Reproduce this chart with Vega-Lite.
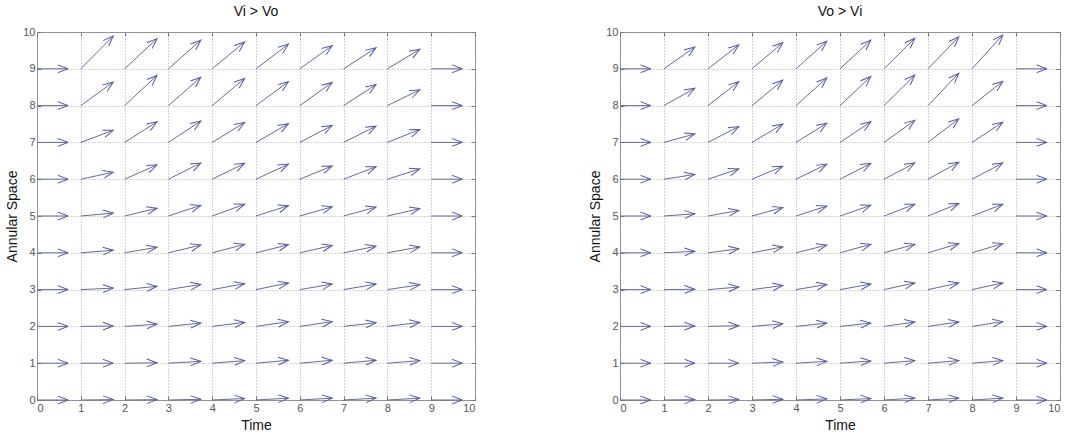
{
  "$schema": "https://vega.github.io/schema/vega-lite/v6.json",
  "padding": {"left": 5, "top": 4, "right": 0, "bottom": 0},
  "spacing": 112,
  "config": {
    "font": "Liberation Sans",
    "view": {"stroke": "#8a8a8a", "strokeWidth": 1},
    "axis": {
      "domain": false,
      "grid": true,
      "gridColor": "#a8a8a8",
      "gridDash": [1, 2],
      "gridWidth": 1,
      "tickColor": "#777777",
      "tickSize": -4,
      "labelPadding": 6,
      "labelOverlap": false,
      "labelColor": "#555555",
      "labelFontSize": 11,
      "labelFont": "Liberation Sans",
      "titleFont": "Liberation Sans",
      "titleFontSize": 14,
      "titleFontWeight": "normal",
      "titleColor": "#111111"
    }
  },
  "datasets": {
    "a": [
      {"x":0,"y":9,"x2":0.71,"y2":9},{"x":1,"y":9,"x2":1.74,"y2":9.89},{"x":2,"y":9,"x2":2.74,"y2":9.82},{"x":3,"y":9,"x2":3.74,"y2":9.78},{"x":4,"y":9,"x2":4.74,"y2":9.73},{"x":5,"y":9,"x2":5.74,"y2":9.67},{"x":6,"y":9,"x2":6.74,"y2":9.63},{"x":7,"y":9,"x2":7.74,"y2":9.57},{"x":8,"y":9,"x2":8.74,"y2":9.53},{"x":9,"y":9,"x2":9.71,"y2":9},
      {"x":0,"y":8,"x2":0.71,"y2":8},{"x":1,"y":8,"x2":1.74,"y2":8.64},{"x":2,"y":8,"x2":2.74,"y2":8.82},{"x":3,"y":8,"x2":3.74,"y2":8.77},{"x":4,"y":8,"x2":4.74,"y2":8.74},{"x":5,"y":8,"x2":5.74,"y2":8.65},{"x":6,"y":8,"x2":6.74,"y2":8.63},{"x":7,"y":8,"x2":7.74,"y2":8.57},{"x":8,"y":8,"x2":8.74,"y2":8.43},{"x":9,"y":8,"x2":9.71,"y2":8},
      {"x":0,"y":7,"x2":0.71,"y2":7},{"x":1,"y":7,"x2":1.74,"y2":7.33},{"x":2,"y":7,"x2":2.74,"y2":7.56},{"x":3,"y":7,"x2":3.74,"y2":7.58},{"x":4,"y":7,"x2":4.74,"y2":7.54},{"x":5,"y":7,"x2":5.74,"y2":7.51},{"x":6,"y":7,"x2":6.74,"y2":7.46},{"x":7,"y":7,"x2":7.74,"y2":7.44},{"x":8,"y":7,"x2":8.74,"y2":7.35},{"x":9,"y":7,"x2":9.71,"y2":7},
      {"x":0,"y":6,"x2":0.71,"y2":6},{"x":1,"y":6,"x2":1.74,"y2":6.19},{"x":2,"y":6,"x2":2.74,"y2":6.39},{"x":3,"y":6,"x2":3.74,"y2":6.44},{"x":4,"y":6,"x2":4.74,"y2":6.43},{"x":5,"y":6,"x2":5.74,"y2":6.41},{"x":6,"y":6,"x2":6.74,"y2":6.36},{"x":7,"y":6,"x2":7.74,"y2":6.34},{"x":8,"y":6,"x2":8.74,"y2":6.28},{"x":9,"y":6,"x2":9.71,"y2":6},
      {"x":0,"y":5,"x2":0.71,"y2":5},{"x":1,"y":5,"x2":1.74,"y2":5.08},{"x":2,"y":5,"x2":2.74,"y2":5.21},{"x":3,"y":5,"x2":3.74,"y2":5.29},{"x":4,"y":5,"x2":4.74,"y2":5.32},{"x":5,"y":5,"x2":5.74,"y2":5.28},{"x":6,"y":5,"x2":6.74,"y2":5.25},{"x":7,"y":5,"x2":7.74,"y2":5.24},{"x":8,"y":5,"x2":8.74,"y2":5.2},{"x":9,"y":5,"x2":9.71,"y2":5},
      {"x":0,"y":4,"x2":0.71,"y2":4},{"x":1,"y":4,"x2":1.74,"y2":4.07},{"x":2,"y":4,"x2":2.74,"y2":4.15},{"x":3,"y":4,"x2":3.74,"y2":4.21},{"x":4,"y":4,"x2":4.74,"y2":4.23},{"x":5,"y":4,"x2":5.74,"y2":4.22},{"x":6,"y":4,"x2":6.74,"y2":4.2},{"x":7,"y":4,"x2":7.74,"y2":4.18},{"x":8,"y":4,"x2":8.74,"y2":4.16},{"x":9,"y":4,"x2":9.71,"y2":4},
      {"x":0,"y":3,"x2":0.71,"y2":3},{"x":1,"y":3,"x2":1.74,"y2":3.04},{"x":2,"y":3,"x2":2.74,"y2":3.09},{"x":3,"y":3,"x2":3.74,"y2":3.14},{"x":4,"y":3,"x2":4.74,"y2":3.16},{"x":5,"y":3,"x2":5.74,"y2":3.18},{"x":6,"y":3,"x2":6.74,"y2":3.15},{"x":7,"y":3,"x2":7.74,"y2":3.15},{"x":8,"y":3,"x2":8.74,"y2":3.13},{"x":9,"y":3,"x2":9.71,"y2":3},
      {"x":0,"y":2,"x2":0.71,"y2":2},{"x":1,"y":2,"x2":1.74,"y2":2.01},{"x":2,"y":2,"x2":2.74,"y2":2.06},{"x":3,"y":2,"x2":3.74,"y2":2.09},{"x":4,"y":2,"x2":4.74,"y2":2.11},{"x":5,"y":2,"x2":5.74,"y2":2.13},{"x":6,"y":2,"x2":6.74,"y2":2.13},{"x":7,"y":2,"x2":7.74,"y2":2.1},{"x":8,"y":2,"x2":8.74,"y2":2.11},{"x":9,"y":2,"x2":9.71,"y2":2},
      {"x":0,"y":1,"x2":0.71,"y2":1},{"x":1,"y":1,"x2":1.74,"y2":1},{"x":2,"y":1,"x2":2.74,"y2":1.01},{"x":3,"y":1,"x2":3.74,"y2":1.05},{"x":4,"y":1,"x2":4.74,"y2":1.07},{"x":5,"y":1,"x2":5.74,"y2":1.08},{"x":6,"y":1,"x2":6.74,"y2":1.08},{"x":7,"y":1,"x2":7.74,"y2":1.08},{"x":8,"y":1,"x2":8.74,"y2":1.07},{"x":9,"y":1,"x2":9.71,"y2":1},
      {"x":0,"y":0,"x2":0.71,"y2":0},{"x":1,"y":0,"x2":1.74,"y2":0.01},{"x":2,"y":0,"x2":2.74,"y2":0.01},{"x":3,"y":0,"x2":3.74,"y2":0.02},{"x":4,"y":0,"x2":4.74,"y2":0.04},{"x":5,"y":0,"x2":5.74,"y2":0.05},{"x":6,"y":0,"x2":6.74,"y2":0.05},{"x":7,"y":0,"x2":7.74,"y2":0.05},{"x":8,"y":0,"x2":8.74,"y2":0.05},{"x":9,"y":0,"x2":9.71,"y2":0}
    ],
    "b": [
      {"x":0,"y":9,"x2":0.7,"y2":9},{"x":1,"y":9,"x2":1.7,"y2":9.59},{"x":2,"y":9,"x2":2.7,"y2":9.65},{"x":3,"y":9,"x2":3.7,"y2":9.71},{"x":4,"y":9,"x2":4.7,"y2":9.75},{"x":5,"y":9,"x2":5.7,"y2":9.78},{"x":6,"y":9,"x2":6.7,"y2":9.83},{"x":7,"y":9,"x2":7.7,"y2":9.87},{"x":8,"y":9,"x2":8.7,"y2":9.92},{"x":9,"y":9,"x2":9.7,"y2":9},
      {"x":0,"y":8,"x2":0.7,"y2":8},{"x":1,"y":8,"x2":1.7,"y2":8.47},{"x":2,"y":8,"x2":2.7,"y2":8.65},{"x":3,"y":8,"x2":3.7,"y2":8.69},{"x":4,"y":8,"x2":4.7,"y2":8.75},{"x":5,"y":8,"x2":5.7,"y2":8.79},{"x":6,"y":8,"x2":6.7,"y2":8.83},{"x":7,"y":8,"x2":7.7,"y2":8.88},{"x":8,"y":8,"x2":8.7,"y2":8.66},{"x":9,"y":8,"x2":9.7,"y2":8},
      {"x":0,"y":7,"x2":0.7,"y2":7},{"x":1,"y":7,"x2":1.7,"y2":7.23},{"x":2,"y":7,"x2":2.7,"y2":7.43},{"x":3,"y":7,"x2":3.7,"y2":7.5},{"x":4,"y":7,"x2":4.7,"y2":7.52},{"x":5,"y":7,"x2":5.7,"y2":7.56},{"x":6,"y":7,"x2":6.7,"y2":7.6},{"x":7,"y":7,"x2":7.7,"y2":7.64},{"x":8,"y":7,"x2":8.7,"y2":7.55},{"x":9,"y":7,"x2":9.7,"y2":7},
      {"x":0,"y":6,"x2":0.7,"y2":6},{"x":1,"y":6,"x2":1.7,"y2":6.13},{"x":2,"y":6,"x2":2.7,"y2":6.28},{"x":3,"y":6,"x2":3.7,"y2":6.35},{"x":4,"y":6,"x2":4.7,"y2":6.41},{"x":5,"y":6,"x2":5.7,"y2":6.43},{"x":6,"y":6,"x2":6.7,"y2":6.44},{"x":7,"y":6,"x2":7.7,"y2":6.46},{"x":8,"y":6,"x2":8.7,"y2":6.44},{"x":9,"y":6,"x2":9.7,"y2":6},
      {"x":0,"y":5,"x2":0.7,"y2":5},{"x":1,"y":5,"x2":1.7,"y2":5.06},{"x":2,"y":5,"x2":2.7,"y2":5.15},{"x":3,"y":5,"x2":3.7,"y2":5.23},{"x":4,"y":5,"x2":4.7,"y2":5.27},{"x":5,"y":5,"x2":5.7,"y2":5.29},{"x":6,"y":5,"x2":6.7,"y2":5.32},{"x":7,"y":5,"x2":7.7,"y2":5.34},{"x":8,"y":5,"x2":8.7,"y2":5.32},{"x":9,"y":5,"x2":9.7,"y2":5},
      {"x":0,"y":4,"x2":0.7,"y2":4},{"x":1,"y":4,"x2":1.7,"y2":4.04},{"x":2,"y":4,"x2":2.7,"y2":4.11},{"x":3,"y":4,"x2":3.7,"y2":4.16},{"x":4,"y":4,"x2":4.7,"y2":4.21},{"x":5,"y":4,"x2":5.7,"y2":4.23},{"x":6,"y":4,"x2":6.7,"y2":4.23},{"x":7,"y":4,"x2":7.7,"y2":4.25},{"x":8,"y":4,"x2":8.7,"y2":4.25},{"x":9,"y":4,"x2":9.7,"y2":4},
      {"x":0,"y":3,"x2":0.7,"y2":3},{"x":1,"y":3,"x2":1.7,"y2":3.01},{"x":2,"y":3,"x2":2.7,"y2":3.07},{"x":3,"y":3,"x2":3.7,"y2":3.11},{"x":4,"y":3,"x2":4.7,"y2":3.14},{"x":5,"y":3,"x2":5.7,"y2":3.15},{"x":6,"y":3,"x2":6.7,"y2":3.18},{"x":7,"y":3,"x2":7.7,"y2":3.18},{"x":8,"y":3,"x2":8.7,"y2":3.18},{"x":9,"y":3,"x2":9.7,"y2":3},
      {"x":0,"y":2,"x2":0.7,"y2":2},{"x":1,"y":2,"x2":1.7,"y2":2.01},{"x":2,"y":2,"x2":2.7,"y2":2.02},{"x":3,"y":2,"x2":3.7,"y2":2.07},{"x":4,"y":2,"x2":4.7,"y2":2.09},{"x":5,"y":2,"x2":5.7,"y2":2.09},{"x":6,"y":2,"x2":6.7,"y2":2.12},{"x":7,"y":2,"x2":7.7,"y2":2.12},{"x":8,"y":2,"x2":8.7,"y2":2.13},{"x":9,"y":2,"x2":9.7,"y2":2},
      {"x":0,"y":1,"x2":0.7,"y2":1},{"x":1,"y":1,"x2":1.7,"y2":1},{"x":2,"y":1,"x2":2.7,"y2":1},{"x":3,"y":1,"x2":3.7,"y2":1.03},{"x":4,"y":1,"x2":4.7,"y2":1.05},{"x":5,"y":1,"x2":5.7,"y2":1.06},{"x":6,"y":1,"x2":6.7,"y2":1.07},{"x":7,"y":1,"x2":7.7,"y2":1.07},{"x":8,"y":1,"x2":8.7,"y2":1.07},{"x":9,"y":1,"x2":9.7,"y2":1},
      {"x":0,"y":0,"x2":0.7,"y2":0},{"x":1,"y":0,"x2":1.7,"y2":0.01},{"x":2,"y":0,"x2":2.7,"y2":0.01},{"x":3,"y":0,"x2":3.7,"y2":0.02},{"x":4,"y":0,"x2":4.7,"y2":0.03},{"x":5,"y":0,"x2":5.7,"y2":0.04},{"x":6,"y":0,"x2":6.7,"y2":0.05},{"x":7,"y":0,"x2":7.7,"y2":0.05},{"x":8,"y":0,"x2":8.7,"y2":0.05},{"x":9,"y":0,"x2":9.7,"y2":0}
    ]
  },
  "hconcat": [
    {
      "title": {"text": "Vi > Vo", "fontSize": 14, "fontWeight": "normal", "font": "Liberation Sans", "color": "#111111", "offset": 7},
      "width": 438,
      "height": 368,
      "data": {"name": "a"},
      "transform": [{"calculate": "-atan2((datum.y2 - datum.y) * 36.8, (datum.x2 - datum.x) * 43.8) * 180 / PI", "as": "ang"}],
      "resolve": {"axis": {"x": "independent", "y": "independent"}},
      "layer": [
        {
          "mark": {"type": "rule", "color": "#676a9c", "strokeWidth": 1},
          "encoding": {
            "x": {"field": "x", "type": "quantitative", "scale": {"domain": [0, 10], "nice": false}, "axis": {"title": "Time", "orient": "bottom", "values": [0,1,2,3,4,5,6,7,8,9,10], "titlePadding": 5}},
            "y": {"field": "y", "type": "quantitative", "scale": {"domain": [0, 10], "nice": false}, "axis": {"title": "Annular Space", "orient": "left", "values": [0,1,2,3,4,5,6,7,8,9,10], "titlePadding": 3}},
            "x2": {"field": "x2"},
            "y2": {"field": "y2"}
          }
        },
        {
          "mark": {"type": "point", "shape": "M-1,-0.38L0,0L-1,0.38", "filled": false, "size": 420, "color": "#5457a8", "strokeWidth": 1, "opacity": 1},
          "encoding": {
            "x": {"field": "x2", "type": "quantitative", "axis": {"orient": "top", "labels": false, "title": null, "grid": false, "values": [0,1,2,3,4,5,6,7,8,9,10]}},
            "y": {"field": "y2", "type": "quantitative", "axis": {"orient": "right", "labels": false, "title": null, "grid": false, "values": [0,1,2,3,4,5,6,7,8,9,10]}},
            "angle": {"field": "ang", "type": "quantitative", "scale": null}
          }
        }
      ]
    },
    {
      "title": {"text": "Vo > Vi", "fontSize": 14, "fontWeight": "normal", "font": "Liberation Sans", "color": "#111111", "offset": 7},
      "width": 440,
      "height": 368,
      "data": {"name": "b"},
      "transform": [{"calculate": "-atan2((datum.y2 - datum.y) * 36.8, (datum.x2 - datum.x) * 44.0) * 180 / PI", "as": "ang"}],
      "resolve": {"axis": {"x": "independent", "y": "independent"}},
      "layer": [
        {
          "mark": {"type": "rule", "color": "#676a9c", "strokeWidth": 1},
          "encoding": {
            "x": {"field": "x", "type": "quantitative", "scale": {"domain": [0, 10], "nice": false}, "axis": {"title": "Time", "orient": "bottom", "values": [0,1,2,3,4,5,6,7,8,9,10], "titlePadding": 5}},
            "y": {"field": "y", "type": "quantitative", "scale": {"domain": [0, 10], "nice": false}, "axis": {"title": "Annular Space", "orient": "left", "values": [0,1,2,3,4,5,6,7,8,9,10], "titlePadding": 3}},
            "x2": {"field": "x2"},
            "y2": {"field": "y2"}
          }
        },
        {
          "mark": {"type": "point", "shape": "M-1,-0.38L0,0L-1,0.38", "filled": false, "size": 420, "color": "#5457a8", "strokeWidth": 1, "opacity": 1},
          "encoding": {
            "x": {"field": "x2", "type": "quantitative", "axis": {"orient": "top", "labels": false, "title": null, "grid": false, "values": [0,1,2,3,4,5,6,7,8,9,10]}},
            "y": {"field": "y2", "type": "quantitative", "axis": {"orient": "right", "labels": false, "title": null, "grid": false, "values": [0,1,2,3,4,5,6,7,8,9,10]}},
            "angle": {"field": "ang", "type": "quantitative", "scale": null}
          }
        }
      ]
    }
  ]
}
